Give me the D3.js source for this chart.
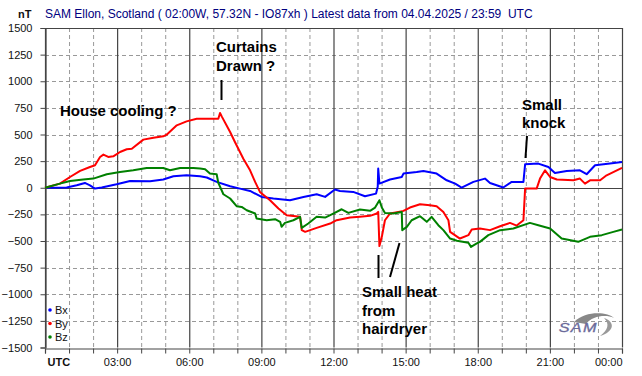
<!DOCTYPE html>
<html>
<head>
<meta charset="utf-8">
<script src="https://cdn.jsdelivr.net/npm/d3@7"></script>
<style>
  body { margin: 0; background: #fff; }
  text { font-family: "Liberation Sans", Arial, sans-serif; }
</style>
</head>
<body>
<div id="chart"></div>
<script>
// hours after 00:00 UTC and field values (nT)
const bxHours = [0, 0.9, 1.32, 1.66, 1.87, 2.08, 2.36, 2.98, 3.54, 4.37, 4.92, 5.34, 5.89, 6.45, 6.73, 7.14, 7.7, 8.11, 8.53, 9.01, 9.5, 10.19, 10.75, 11.3, 11.65, 12.06, 12.27, 12.82, 13.31, 13.77, 13.84, 13.86, 13.91, 14.35, 14.84, 14.91, 15.46, 15.74, 16.29, 16.71, 17.06, 17.33, 17.82, 18.3, 18.51, 19.06, 19.41, 19.9, 19.97, 20.52, 20.94, 21.21, 21.7, 22.25, 22.53, 22.88, 23.5, 24];
const bxValues = [0, 2, 23, 45, 23, -8, 2, 33, 64, 61, 77, 108, 117, 108, 96, 55, 14, -8, -30, -86, -101, -117, -86, -61, -86, -17, -30, -39, -80, -55, 10, 180, 39, 77, 101, 133, 148, 158, 133, 70, 39, 2, 55, 86, 45, 2, 55, 55, 220, 227, 195, 139, 158, 164, 127, 211, 227, 242];

const byHours = [0, 0.62, 1.04, 1.46, 1.87, 2.08, 2.29, 2.43, 2.63, 2.84, 3.12, 3.4, 3.61, 4.09, 4.51, 4.92, 5.06, 5.48, 5.89, 6.31, 6.45, 7.21, 7.28, 7.35, 7.7, 7.9, 8.25, 8.53, 8.74, 8.94, 9.36, 9.71, 10.05, 10.61, 10.68, 10.82, 11.3, 11.86, 12.13, 12.69, 13.1, 13.52, 13.8, 13.86, 13.91, 14.01, 14.14, 14.35, 14.7, 14.91, 15.18, 15.6, 16.01, 16.29, 16.57, 16.78, 16.85, 17.26, 17.61, 17.75, 18.09, 18.51, 18.93, 19.34, 19.62, 19.9, 19.97, 20.45, 20.59, 20.8, 21.01, 21.29, 21.98, 22.25, 22.46, 22.67, 23.09, 23.36, 24];
const byValues = [0, 39, 101, 158, 195, 211, 289, 311, 289, 295, 336, 361, 367, 452, 470, 483, 498, 586, 623, 648, 648, 648, 702, 670, 523, 430, 273, 164, 55, -39, -117, -195, -258, -273, -398, -414, -377, -336, -305, -280, -273, -264, -242, -227, -548, -461, -305, -242, -227, -217, -186, -155, -164, -173, -227, -305, -414, -477, -445, -392, -383, -398, -361, -330, -355, -305, -8, -8, 86, 164, 101, 77, 70, 86, 39, 70, 70, 117, 186];

const bzHours = [0, 0.62, 1.04, 1.59, 2.01, 2.57, 3.12, 3.67, 4.23, 4.92, 5.2, 5.62, 6.17, 6.45, 6.66, 6.86, 7.14, 7.21, 7.42, 7.7, 7.97, 8.18, 8.39, 8.74, 8.8, 9.22, 9.57, 9.78, 9.84, 9.98, 10.33, 10.61, 10.68, 10.95, 11.3, 11.65, 11.99, 12.34, 12.62, 13.1, 13.52, 13.73, 13.91, 14.01, 14.14, 14.49, 14.84, 14.86, 15.05, 15.25, 15.6, 15.88, 16.08, 16.36, 16.57, 16.85, 17.13, 17.61, 17.72, 17.96, 18.09, 18.44, 18.93, 19.48, 20.17, 20.52, 21.01, 21.49, 22.18, 22.67, 23.16, 23.64, 24];
const bzValues = [0, 39, 64, 77, 86, 127, 148, 164, 186, 186, 164, 186, 186, 180, 173, 133, 127, 45, -61, -101, -173, -180, -211, -242, -289, -305, -295, -320, -367, -330, -305, -273, -377, -336, -273, -280, -242, -202, -236, -205, -217, -186, -117, -186, -236, -242, -227, -398, -367, -305, -267, -320, -273, -352, -398, -477, -498, -517, -555, -523, -508, -445, -398, -383, -330, -352, -383, -477, -508, -461, -445, -414, -392];

const yTicks = [1500, 1250, 1000, 750, 500, 250, 0, -250, -500, -750, -1000, -1250, -1500];
const xLabels = ["UTC", "", "", "03:00", "", "", "06:00", "", "", "09:00", "", "", "12:00", "", "", "15:00", "", "", "18:00", "", "", "21:00", "", "", "00:00"];
const seriesNames = ["Bx", "By", "Bz"];
const seriesColors = ["#0000ff", "#ff0000", "#008000"];

const width = 642, height = 376;
const svg = d3.select("#chart").append("svg")
  .attr("width", width)
  .attr("height", height);

const x = d3.scaleLinear().domain([0, 24]).range([45, 622]);
const y = d3.scaleLinear().domain([-1500, 1500]).range([347.5, 28]);

// grid
const hours = d3.range(0, 25);
svg.append("g").selectAll("line")
  .data(hours.filter(h => h % 3 !== 0))
  .join("line")
    .attr("x1", d => x(d) + 0.5).attr("x2", d => x(d) + 0.5)
    .attr("y1", y(1500)).attr("y2", y(-1500))
    .attr("stroke", "#999").attr("stroke-dasharray", "4,3");
svg.append("g").selectAll("line")
  .data(yTicks.filter(v => v !== 0 && Math.abs(v) !== 1500))
  .join("line")
    .attr("x1", x(0)).attr("x2", x(24))
    .attr("y1", d => Math.round(y(d)) + 0.5).attr("y2", d => Math.round(y(d)) + 0.5)
    .attr("stroke", "#999").attr("stroke-dasharray", "4,3");
svg.append("g").selectAll("line")
  .data(hours.filter(h => h % 3 === 0))
  .join("line")
    .attr("x1", d => x(d) + 0.5).attr("x2", d => x(d) + 0.5)
    .attr("y1", y(1500)).attr("y2", y(-1500))
    .attr("stroke", "#444").attr("stroke-width", 1.2);
svg.append("line")
  .attr("x1", x(0)).attr("x2", x(24))
  .attr("y1", Math.round(y(0)) + 0.5).attr("y2", Math.round(y(0)) + 0.5)
  .attr("stroke", "#444").attr("stroke-width", 1.2);
svg.append("line")
  .attr("x1", x(0)).attr("x2", x(24))
  .attr("y1", Math.round(y(1500)) + 0.5).attr("y2", Math.round(y(1500)) + 0.5)
  .attr("stroke", "#444").attr("stroke-width", 1.2);

// axes
const yAxis = svg.append("g")
  .attr("transform", `translate(${x(0) + 0.5},0)`)
  .call(d3.axisLeft(y).tickValues(yTicks).tickSize(5).tickPadding(8)
    .tickFormat(d3.format("d")));
yAxis.select(".domain").attr("stroke", "#444").attr("stroke-width", 1.2);
yAxis.selectAll("line").attr("stroke", "#444");
yAxis.selectAll("text")
  .attr("font-size", 11).attr("fill", "#111")
  .style("font-family", "Liberation Sans, Arial, sans-serif");

const xAxis = svg.append("g")
  .attr("transform", `translate(0,${Math.round(y(-1500)) + 0.5})`)
  .call(d3.axisBottom(x).tickValues(hours).tickSize(5).tickPadding(5)
    .tickFormat((d, i) => xLabels[i]));
xAxis.select(".domain").attr("stroke", "#444").attr("stroke-width", 1.2);
xAxis.selectAll("line").attr("stroke", "#444");
xAxis.selectAll("text")
  .attr("font-size", 11).attr("fill", "#111")
  .style("font-family", "Liberation Sans, Arial, sans-serif")
  .attr("text-anchor", d => d === 0 ? "start" : d === 24 ? "end" : "middle")
  .attr("dx", d => d === 0 ? 2 : 0)
  .attr("font-weight", d => d === 0 ? "bold" : "normal");

// data lines
const line = d3.line().x(d => x(d[0])).y(d => y(d[1]));
const series = [
  d3.zip(bxHours, bxValues),
  d3.zip(byHours, byValues),
  d3.zip(bzHours, bzValues)
];
svg.append("g").selectAll("path")
  .data(series)
  .join("path")
    .attr("d", line)
    .attr("fill", "none")
    .attr("stroke", (d, i) => seriesColors[i])
    .attr("stroke-width", 2)
    .attr("stroke-linejoin", "round");

// legend
const legend = svg.append("g").selectAll("g")
  .data(seriesNames)
  .join("g")
    .attr("transform", (d, i) => `translate(50,${310 + i * 13.5})`);
legend.append("circle").attr("r", 1.8).attr("fill", (d, i) => seriesColors[i]);
legend.append("text").text(d => d)
  .attr("x", 5).attr("y", 4)
  .attr("font-size", 11).attr("fill", "#111");

// titles
svg.append("text").text("nT")
  .attr("x", 18).attr("y", 18)
  .attr("font-size", 11).attr("font-weight", "bold").attr("fill", "#111");
svg.append("text")
  .text("SAM Ellon, Scotland ( 02:00W, 57.32N - IO87xh ) Latest data from 04.04.2025 / 23:59  UTC")
  .attr("x", 45).attr("y", 18)
  .attr("font-size", 12).attr("fill", "#000080")
  .style("white-space", "pre");

// annotations
const notes = svg.append("g")
  .attr("font-size", 15).attr("font-weight", "bold").attr("fill", "#000");
notes.append("text").text("Curtains").attr("x", 216).attr("y", 52);
notes.append("text").text("Drawn ?").attr("x", 216).attr("y", 71);
notes.append("text").text("House cooling ?").attr("x", 60).attr("y", 116);
notes.append("text").text("Small").attr("x", 522).attr("y", 110);
notes.append("text").text("knock").attr("x", 522).attr("y", 128);
notes.append("text").text("Small heat").attr("x", 362).attr("y", 297);
notes.append("text").text("from").attr("x", 362).attr("y", 316);
notes.append("text").text("hairdryer").attr("x", 362).attr("y", 334);

const pointers = [
  [221.5, 80, 221.5, 100],
  [527, 136, 525.5, 158],
  [378.5, 255, 378.5, 278],
  [399.5, 243, 390, 277]
];
svg.append("g").selectAll("line")
  .data(pointers)
  .join("line")
    .attr("x1", d => d[0]).attr("y1", d => d[1])
    .attr("x2", d => d[2]).attr("y2", d => d[3])
    .attr("stroke", "#000").attr("stroke-width", 2);

// SAM logo
const logo = svg.append("g").attr("transform", "translate(556,316)");
logo.append("path")
  .attr("d", "M18,6 C30,-6 52,-4 58,2 C50,-2 36,0 30,8 Z")
  .attr("fill", "#888");
logo.append("path")
  .attr("d", "M48,2 C60,6 58,16 44,20 C52,14 54,8 48,2 Z")
  .attr("fill", "#999");
logo.append("text").text("SAM")
  .attr("x", 2).attr("y", 16)
  .attr("font-size", 12).attr("font-style", "italic")
  .attr("fill", "#6a6a9a").attr("stroke", "#6a6a9a").attr("stroke-width", 0.3)
  .attr("transform", "scale(1.35,1)")
  .attr("letter-spacing", 1);
</script>
</body>
</html>
